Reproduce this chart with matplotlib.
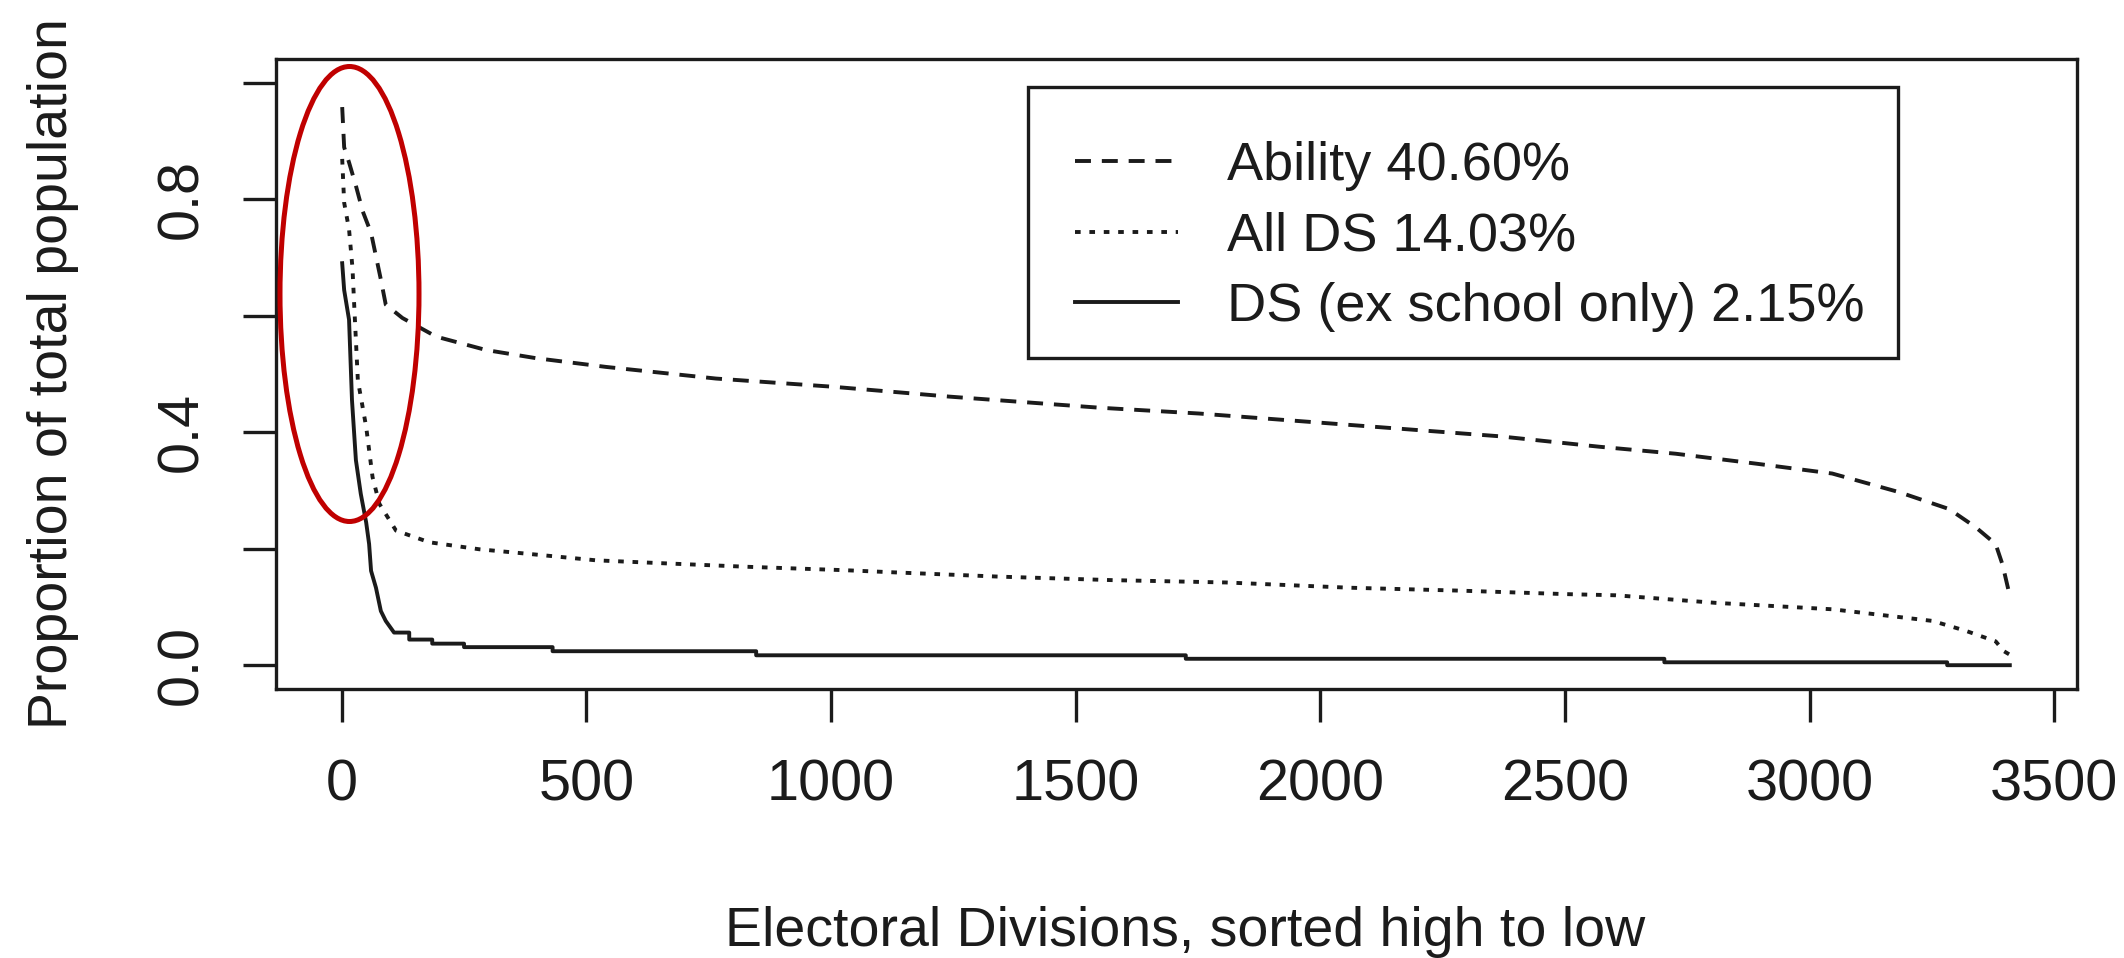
import matplotlib
matplotlib.use("Agg")
import matplotlib.pyplot as plt
from matplotlib.patches import Ellipse, Rectangle

plt.rcParams['font.family'] = ['Liberation Sans', 'DejaVu Sans']

# ---- data (rank of Electoral Division, proportion) ----
ability_rank = [1, 5, 15, 29, 43, 60, 70, 80, 90, 124, 193, 295, 397, 540, 765, 1003,
                1242, 1548, 1752, 1957, 2161, 2365, 2570, 2726, 2890, 3046, 3183, 3285,
                3339, 3380, 3394, 3409]
ability_value = [0.958, 0.889, 0.863, 0.823, 0.779, 0.742, 0.702, 0.662, 0.619, 0.596,
                 0.564, 0.541, 0.527, 0.512, 0.492, 0.478, 0.461, 0.442, 0.432, 0.419,
                 0.406, 0.393, 0.375, 0.363, 0.346, 0.329, 0.297, 0.268, 0.237, 0.208,
                 0.173, 0.119]

allds_rank = [1, 5, 15, 22, 26, 33, 50, 63, 77, 111, 179, 281, 383, 520, 656, 826, 1030,
              1139, 1344, 1575, 1807, 2059, 2284, 2502, 2604, 2808, 3046, 3251, 3319,
              3380, 3397, 3409]
allds_value = [0.869, 0.794, 0.748, 0.682, 0.610, 0.489, 0.409, 0.323, 0.277, 0.231,
               0.211, 0.199, 0.191, 0.180, 0.175, 0.169, 0.163, 0.159, 0.152, 0.146,
               0.142, 0.133, 0.128, 0.122, 0.120, 0.107, 0.096, 0.076, 0.059, 0.041,
               0.024, 0.018]

ds_rank = [1, 5, 15, 21, 29, 39, 50, 56, 60, 70, 80, 90, 107, 138, 138, 185, 185, 250,
           250, 431, 431, 847, 847, 1725, 1725, 2703, 2703, 3281, 3281, 3409]
ds_value = [0.690, 0.644, 0.593, 0.455, 0.352, 0.294, 0.245, 0.208, 0.162, 0.133, 0.093,
            0.076, 0.056, 0.056, 0.044, 0.044, 0.037, 0.037, 0.031, 0.031, 0.024, 0.024,
            0.017, 0.017, 0.011, 0.011, 0.005, 0.005, 0.0, 0.0]

series_labels = ["Ability 40.60%", "All DS 14.03%", "DS (ex school only) 2.15%"]

x_ticks = [0, 500, 1000, 1500, 2000, 2500, 3000, 3500]
y_ticks = [0.0, 0.2, 0.4, 0.6, 0.8, 1.0]
y_tick_labels = ["0.0", "", "0.4", "", "0.8", ""]

x_label = "Electoral Divisions, sorted high to low"
y_label = "Proportion of total population"

# ---- figure ----
W, H = 2124, 958
fig = plt.figure(figsize=(W / 100, H / 100), dpi=100)
fig.patch.set_facecolor("white")

L, R, T, B = 275.5, 2076.5, 59.3, 688.5
ax = fig.add_axes([L / W, 1 - B / H, (R - L) / W, (B - T) / H])

FS_TICK = 41.5
FS_LAB = 40.0
FS_LEG = 39.0
INK = "#1b1b1b"
LW = 2.8
AX_LW = 2.4

ax.plot(ability_rank, ability_value, color=INK, lw=LW, linestyle=(0, (4.1, 2.8)),
        label=series_labels[0])
ax.plot(allds_rank, allds_value, color=INK, lw=LW, linestyle=(0, (1.45, 2.25)),
        label=series_labels[1])
ax.plot(ds_rank, ds_value, color=INK, lw=LW, linestyle="-", label=series_labels[2])

ax.set_xlim(-135.3, 3545.3)
ax.set_ylim(-0.04, 1.04)

ax.set_xticks(x_ticks)
ax.set_xticklabels([str(v) for v in x_ticks])
ax.set_yticks(y_ticks)
ax.set_yticklabels(y_tick_labels, rotation=90, va="center")

ax.tick_params(axis="both", direction="out", length=23.5, width=AX_LW, color=INK,
               labelsize=FS_TICK, labelcolor=INK)
ax.tick_params(axis="x", pad=27)
ax.tick_params(axis="y", pad=24)

for sp in ax.spines.values():
    sp.set_linewidth(AX_LW)
    sp.set_color(INK)

ax.set_xlabel(x_label, fontsize=FS_LAB, color=INK)
ax.xaxis.set_label_coords((1185 - L) / (R - L), -(906 - B) / (B - T))
ax.set_ylabel(y_label, fontsize=FS_LAB, color=INK)
ax.yaxis.set_label_coords(-(L - 79) / (R - L), 0.5)

# legend (frame drawn as a rectangle to match the reference box)
leg = ax.legend(loc="upper left", bbox_to_anchor=(1075 / W, 1 - 141 / H),
                bbox_transform=fig.transFigure, frameon=False, fontsize=FS_LEG,
                handlelength=1.9, handletextpad=0.91, borderpad=0.0,
                borderaxespad=0.0, labelspacing=0.38)
for t in leg.get_texts():
    t.set_color(INK)
fig.add_artist(Rectangle((1027.7 / W, 1 - 358.3 / H), (1897.5 - 1027.7) / W,
                         (358.3 - 86.7) / H, transform=fig.transFigure,
                         fill=False, edgecolor=INK, linewidth=AX_LW))

# red highlight ellipse (annotation)
ell_cx, ell_cy, ell_w, ell_h = 349.5, 294.0, 139.0, 455.0
fig.add_artist(Ellipse((ell_cx / W, 1 - ell_cy / H), ell_w / W, ell_h / H,
                       transform=fig.transFigure, fill=False,
                       edgecolor="#c00000", linewidth=3.6))

fig.savefig("out.png", dpi=100, facecolor="white")
